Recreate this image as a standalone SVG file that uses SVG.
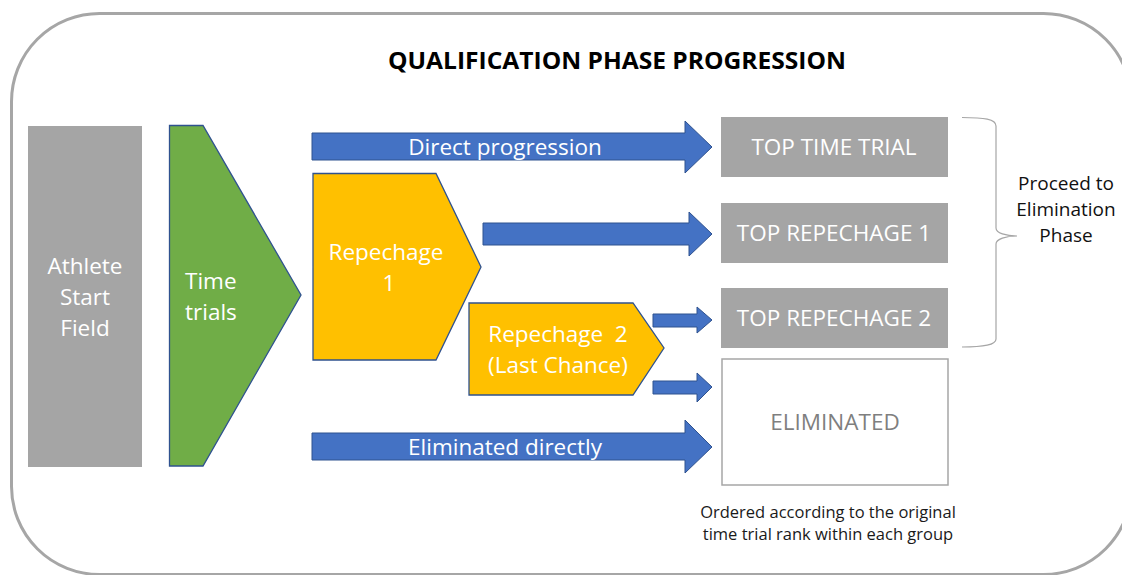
<svg xmlns="http://www.w3.org/2000/svg" width="1122" height="575" viewBox="0 0 1122 575">
<style>
.t{font-family:"Open Sans","Liberation Sans",sans-serif;}
.w{fill:#ffffff;font-size:22.5px;}
.bx{fill:#a5a5a5;}
.arr{fill:#4472c4;stroke:#2f528f;stroke-width:1;}
.grn{fill:#70ad47;stroke:#2f528f;stroke-width:1.3;}
.org{fill:#ffc000;stroke:#2f528f;stroke-width:1.3;}
.blk{fill:#111111;font-size:19px;}
</style>
<rect x="0" y="0" width="1122" height="575" fill="#ffffff"/>
<rect id="frame" x="11.5" y="13.5" width="1120" height="561" rx="88" ry="88" fill="none" stroke="#a6a6a6" stroke-width="3"/>
<text class="t" x="617" y="69" font-size="23" font-weight="bold" text-anchor="middle" fill="#000000" textLength="458" lengthAdjust="spacingAndGlyphs">QUALIFICATION PHASE PROGRESSION</text>

<g id="start" text-anchor="middle">
<rect class="bx" x="28" y="126" width="114" height="341"/>
<text class="t w" x="85" y="274">Athlete</text>
<text class="t w" x="85" y="305">Start</text>
<text class="t w" x="85" y="336">Field</text>
</g>

<g id="timetrials" text-anchor="start">
<polygon class="grn" points="169.5,125.5 203,125.5 301,295 203,466 169.5,466"/>
<text class="t w" x="185" y="289">Time</text>
<text class="t w" x="185" y="320">trials</text>
</g>

<g id="repechage1" text-anchor="middle">
<polygon class="org" points="313,173.5 436,173.5 481,267 436,360 313,360"/>
<text class="t w" x="386" y="260">Repechage</text>
<text class="t w" x="389" y="291">1</text>
</g>

<g id="repechage2" text-anchor="middle">
<polygon class="org" points="469,303 633,303 664,348 633,395 469,395"/>
<text class="t w" x="558" y="342" xml:space="preserve">Repechage  2</text>
<text class="t w" x="558" y="373">(Last Chance)</text>
</g>

<g id="toptt" text-anchor="middle">
<rect class="bx" x="721" y="117" width="227" height="60"/>
<text class="t w" x="834" y="155">TOP TIME TRIAL</text>
</g>
<g id="toprep1" text-anchor="middle">
<rect class="bx" x="721" y="203" width="227" height="60"/>
<text class="t w" x="834" y="241">TOP REPECHAGE 1</text>
</g>
<g id="toprep2" text-anchor="middle">
<rect class="bx" x="721" y="288" width="227" height="60"/>
<text class="t w" x="834" y="326">TOP REPECHAGE 2</text>
</g>
<g id="eliminated" text-anchor="middle">
<rect x="722" y="359" width="226" height="126" fill="#ffffff" stroke="#a6a6a6" stroke-width="1.5"/>
<text class="t" x="835" y="430" font-size="22.5" fill="#7f7f7f">ELIMINATED</text>
<text class="t" x="828" y="518" font-size="16.5" fill="#1a1a1a">Ordered according to the original</text>
<text class="t" x="828" y="540" font-size="16.5" fill="#1a1a1a">time trial rank within each group</text>
</g>

<g id="proceed" text-anchor="middle">
<path d="M962,117.5 C984,117.5 996,119 996,126 L996,228 C996,233 1006,236 1017,236 C1006,236 996,239 996,244 L996,339 C996,345 984,347 962,347" fill="none" stroke="#a6a6a6" stroke-width="1.2"/>
<text class="t blk" x="1066" y="190">Proceed to</text>
<text class="t blk" x="1066" y="216">Elimination</text>
<text class="t blk" x="1066" y="242">Phase</text>
</g>

<g id="connectors" text-anchor="middle">
<polygon class="arr" points="312,133 685,133 685,121 712,147 685,173 685,160 312,160"/>
<polygon class="arr" points="483,223 689,223 689,212 712,234 689,256 689,245 483,245"/>
<polygon class="arr" points="653,314 697,314 697,307 712,320 697,333 697,327 653,327"/>
<polygon class="arr" points="653,381 697,381 697,373 712,387 697,402 697,394 653,394"/>
<polygon class="arr" points="312,433 685,433 685,420 712,447 685,473 685,460 312,460"/>
<text class="t w" x="505" y="155">Direct progression</text>
<text class="t w" x="505" y="455">Eliminated directly</text>
</g>
</svg>
